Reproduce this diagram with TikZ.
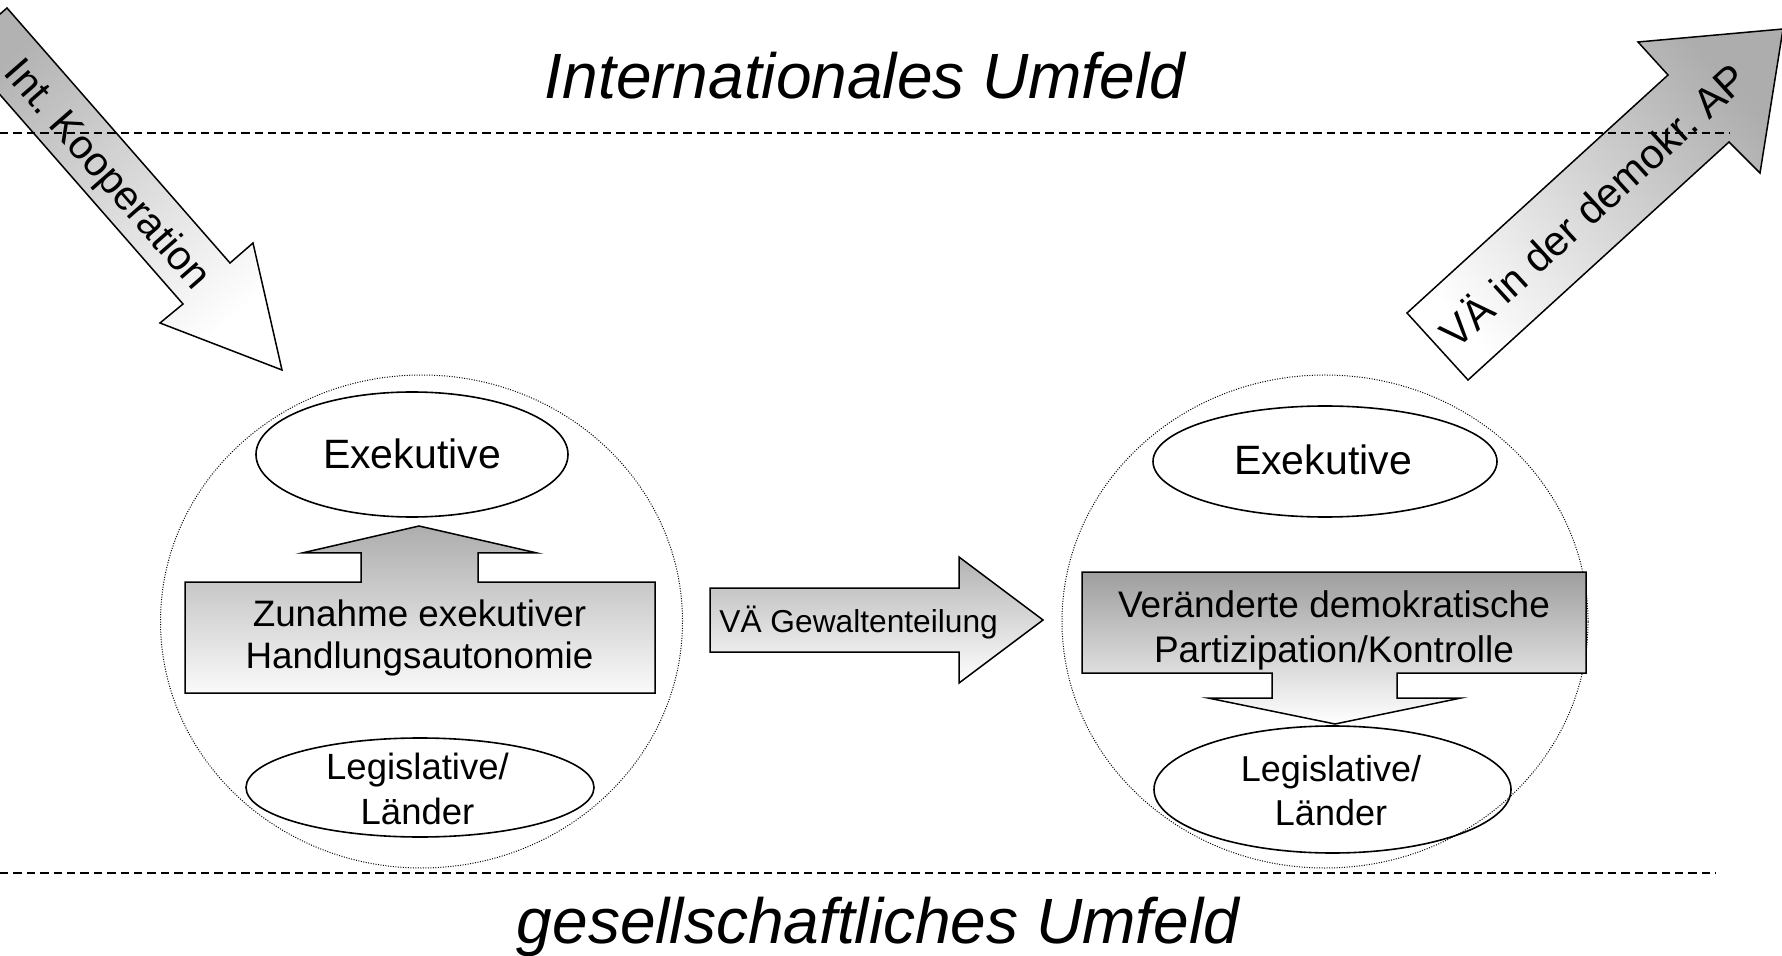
\documentclass[tikz,border=0pt]{standalone}
\usepackage{fontspec}
\setmainfont{Liberation Sans}
\usetikzlibrary{shapes.geometric}
\frenchspacing
\begin{document}
\begin{tikzpicture}[x=0.5pt,y=-0.5pt,
  outl/.style={draw=black, line width=0.75pt, line join=miter},
  ell/.style={ellipse, draw=black, line width=0.8pt, inner sep=0pt},
  zone/.style={ellipse, draw=black, line width=0.5pt, dash pattern=on 0.5pt off 0.75pt, inner sep=0pt, minimum height=246.5pt},
  sep/.style={draw=black, line width=0.55pt, dash pattern=on 4.2pt off 2.5pt},
  txt/.style={inner sep=0pt, align=center, text=black},
]
\useasboundingbox (0,0) rectangle (1782,956);
\begin{scope}
\clip (0,0) rectangle (1782,956);
% zones
\node[zone, minimum width=261pt] (zl) at (421.5,621.5) {};
\node[zone, minimum width=263pt] (zr) at (1325,621.5) {};
% block arrows
\path[outl, top color=black!30, bottom color=white, shading angle=41.2]
  (-40,49) -- (7,8) -- (230,263) -- (253,243) -- (282,370) -- (160,323) -- (183,304) -- cycle;
\path[outl, top color=black!32, bottom color=white, shading angle=-47.6]
  (1407,313) -- (1668,75) -- (1638,42) -- (1783,29) -- (1760,173) -- (1729,142) -- (1468,380) -- cycle;
\path[outl, top color=black!30, bottom color=white]
  (710,588) -- (959,588) -- (959,557) -- (1043,620) -- (959,683) -- (959,652) -- (710,652) -- cycle;
\path[outl, top color=black!32, bottom color=black!2]
  (185,693) -- (185,582) -- (361,582) -- (361,553) -- (302,553) -- (419,526) -- (537,553) -- (478,553) -- (478,582) -- (655,582) -- (655,693) -- cycle;
\path[outl, top color=black!38, bottom color=white]
  (1082,572) -- (1586,572) -- (1586,673) -- (1397,673) -- (1397,698) -- (1461,698) -- (1335,724) -- (1208,698) -- (1272,698) -- (1272,673) -- (1082,673) -- cycle;
% ellipses
\node[ell, minimum width=156pt, minimum height=62.5pt] (exl) at (412,454.5) {};
\node[ell, minimum width=172pt, minimum height=55.5pt] (exr) at (1325,461.5) {};
\node[ell, minimum width=174pt, minimum height=49.5pt] (lgl) at (420,787.5) {};
\node[ell, minimum width=178.5pt, minimum height=63.5pt] (lgr) at (1332.5,789.5) {};
% separators
\coordinate (tl) at (0,133);
\coordinate (tr) at (1730,133);
\coordinate (bl) at (0,873);
\coordinate (br) at (1716,873);
\draw[sep] (tl) -- (tr);
\draw[sep] (bl) -- (br);
% texts
\node[txt, anchor=base, font=\fontsize{32}{38}\selectfont\itshape] (intl) at (865,98.5) {Internationales Umfeld};
\node[txt, anchor=base, font=\fontsize{32}{38}\selectfont\itshape] (ges) at (878,943) {gesellschaftliches Umfeld};
\node[txt, rotate=-48.85, font=\fontsize{20.5}{24}\selectfont] (koop) at (106,176) {Int. Kooperation};
\node[txt, rotate=42.4, font=\fontsize{20.8}{24}\selectfont] (vaap) at (1592,204) {VÄ in der demokr. AP};
\node[txt, anchor=base west, font=\fontsize{15.85}{19}\selectfont] (vagw) at (719,632.5) {VÄ Gewaltenteilung};
\node[txt, anchor=base, font=\fontsize{20.5}{24}\selectfont] (exlt) at (412,468.5) {Exekutive};
\node[txt, anchor=base, font=\fontsize{20.5}{24}\selectfont] (exrt) at (1323,475) {Exekutive};
\node[txt, font=\fontsize{18.25}{22.5}\selectfont] (lglt) at (417.5,789) {Legislative/\\Länder};
\node[txt, font=\fontsize{18}{22}\selectfont] (lgrt) at (1331,791) {Legislative/\\Länder};
\node[txt, font=\fontsize{18.4}{21}\selectfont] (zun) at (419.5,637.5) {Zunahme exekutiver\\Handlungsautonomie};
\node[txt, font=\fontsize{18.5}{22.3}\selectfont] (ver) at (1334,630.5) {Veränderte demokratische\\Partizipation/Kontrolle};
\end{scope}
\end{tikzpicture}
\end{document}
